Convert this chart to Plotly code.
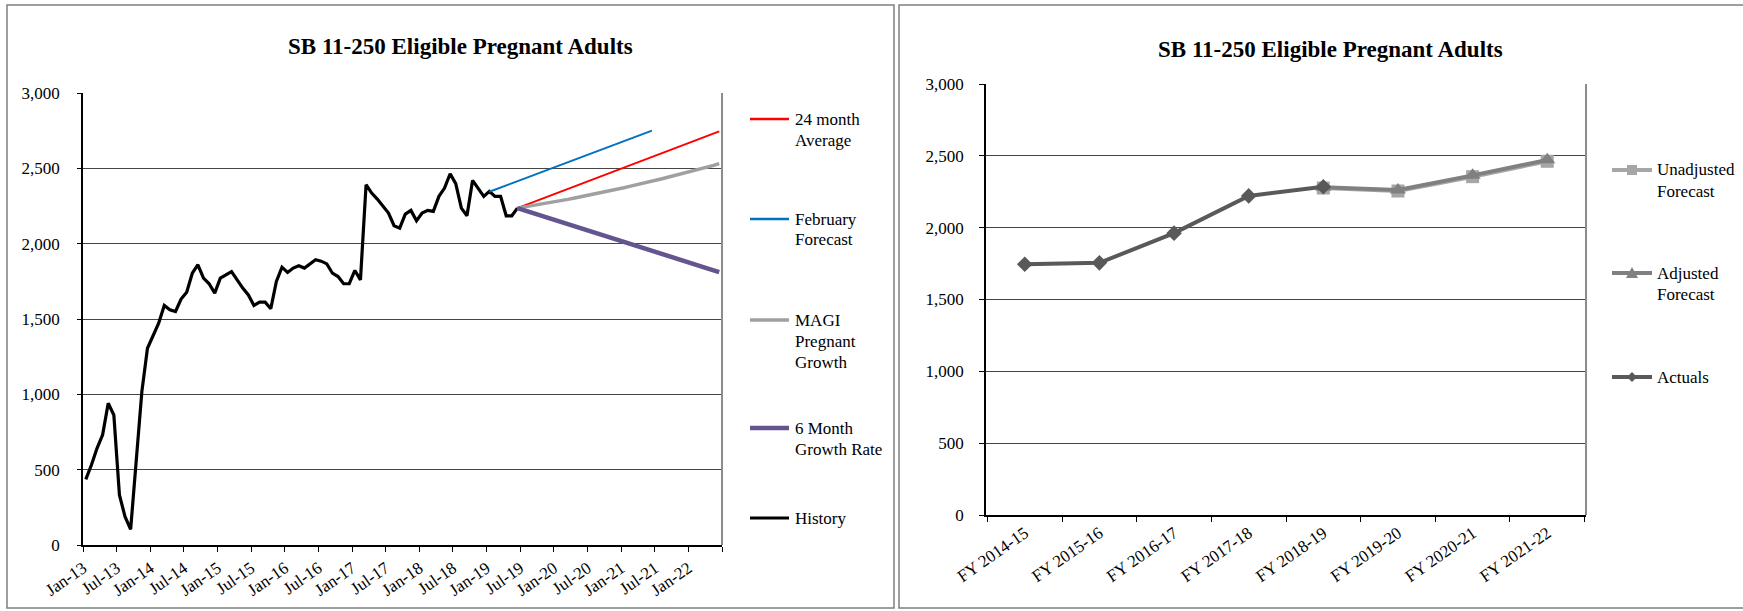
import pandas as pd
import plotly.graph_objects as go

W, H = 1743, 611
FONT = "Liberation Serif"
TITLE = "SB 11-250 Eligible Pregnant Adults"

# ---------------- monthly caseload (left panel) ----------------
months = list(pd.date_range("2013-01-01", periods=114, freq="MS").strftime("%b-%y"))

history_start = "Jan-13"
history = [
    436, 531, 642, 731, 941, 863, 332, 188, 104, 560,
    1018, 1306, 1395, 1472, 1590, 1561, 1550, 1632, 1678, 1804,
    1860, 1771, 1734, 1672, 1771, 1793, 1815, 1760, 1705, 1660,
    1590, 1612, 1612, 1568, 1749, 1844, 1809, 1838, 1853, 1838,
    1866, 1893, 1884, 1866, 1804, 1782, 1734, 1734, 1822, 1760,
    2391, 2336, 2296, 2247, 2203, 2119, 2103, 2196, 2221, 2152,
    2203, 2221, 2214, 2314, 2369, 2464, 2398, 2236, 2185, 2420,
    2369, 2314, 2347, 2314, 2314, 2185, 2185, 2236,
]

february_start = "Jan-19"
february_forecast = [
    2345, 2359, 2373, 2387, 2401, 2415, 2429, 2443, 2457, 2471,
    2485, 2499, 2513, 2527, 2541, 2555, 2568, 2582, 2596, 2610,
    2624, 2638, 2652, 2666, 2680, 2694, 2708, 2722, 2736, 2750,
]

projection_start = "Jun-19"
avg_24_month = [
    2236, 2250, 2264, 2278, 2293, 2307, 2321, 2335, 2349, 2363,
    2377, 2391, 2406, 2420, 2434, 2448, 2462, 2476, 2490, 2505,
    2519, 2533, 2547, 2561, 2575, 2589, 2603, 2618, 2632, 2646,
    2660, 2674, 2688, 2702, 2717, 2731, 2745,
]
magi_growth = [
    2236, 2242, 2248, 2254, 2261, 2267, 2274, 2281, 2288, 2294,
    2302, 2309, 2316, 2324, 2331, 2339, 2347, 2355, 2363, 2371,
    2380, 2388, 2397, 2406, 2414, 2424, 2433, 2442, 2451, 2461,
    2470, 2480, 2490, 2500, 2510, 2520, 2531,
]
six_month_growth = [
    2236, 2224, 2212, 2201, 2189, 2177, 2165, 2153, 2142, 2130,
    2118, 2106, 2094, 2083, 2071, 2059, 2047, 2035, 2024, 2012,
    2000, 1988, 1976, 1965, 1953, 1941, 1929, 1917, 1906, 1894,
    1882, 1870, 1858, 1847, 1835, 1823, 1811,
]

# ---------------- fiscal-year totals (right panel) ----------------
fiscal_years = ["FY 2014-15", "FY 2015-16", "FY 2016-17", "FY 2017-18",
                "FY 2018-19", "FY 2019-20", "FY 2020-21", "FY 2021-22"]
actuals = [1745, 1755, 1962, 2221, 2285, None, None, None]
unadjusted_forecast = [None, None, None, None, 2276, 2255, 2355, 2462]
adjusted_forecast = [None, None, None, None, 2282, 2262, 2364, 2472]


def month_pos(start, n):
    i0 = months.index(start)
    return list(range(i0, i0 + n))


def px(x):
    return x / W


def py(y):
    return 1 - y / H


fig = go.Figure()

# left panel series
left_series = [
    ("History", history_start, history, "#000000", 3.2),
    ("February Forecast", february_start, february_forecast, "#0070C0", 2),
    ("24 month Average", projection_start, avg_24_month, "#FF0000", 2),
    ("MAGI Pregnant Growth", projection_start, magi_growth, "#A0A0A0", 3.5),
    ("6 Month Growth Rate", projection_start, six_month_growth, "#65558F", 4.5),
]
for name, start, vals, color, width in left_series:
    fig.add_trace(go.Scatter(
        x=month_pos(start, len(vals)), y=vals, mode="lines", name=name,
        line=dict(color=color, width=width), xaxis="x", yaxis="y",
        showlegend=False,
    ))

# right panel series
fig.add_trace(go.Scatter(
    x=fiscal_years, y=unadjusted_forecast, mode="lines+markers",
    name="Unadjusted Forecast", line=dict(color="#A6A6A6", width=4),
    marker=dict(symbol="square", size=13, color="#A6A6A6"),
    xaxis="x2", yaxis="y2", showlegend=False,
))
fig.add_trace(go.Scatter(
    x=fiscal_years, y=adjusted_forecast, mode="lines+markers",
    name="Adjusted Forecast", line=dict(color="#808080", width=4),
    marker=dict(symbol="triangle-up", size=14, color="#808080"),
    xaxis="x2", yaxis="y2", showlegend=False,
))
fig.add_trace(go.Scatter(
    x=fiscal_years, y=actuals, mode="lines+markers",
    name="Actuals", line=dict(color="#595959", width=4),
    marker=dict(symbol="diamond", size=12, color="#595959"),
    xaxis="x2", yaxis="y2", showlegend=False,
))

tick_font = dict(family=FONT, size=17, color="#000000")
grid = "#454545"

left_tickvals = [i - 0.5 for i in range(0, len(months) + 1, 6)]
left_ticktext = months[::6][:len(left_tickvals) - 1] + [""]

fig.update_layout(
    width=W, height=H, autosize=False,
    margin=dict(l=0, r=0, t=0, b=0, pad=0, autoexpand=False),
    paper_bgcolor="white", plot_bgcolor="white",
    showlegend=False,
    font=dict(family=FONT, size=17, color="#000000"),
    xaxis=dict(
        domain=[px(83), px(722)], anchor="y", automargin=False,
        range=[-0.5, len(months) - 0.5],
        tickmode="array", tickvals=left_tickvals, ticktext=left_ticktext,
        tickangle=-35, ticks="outside", ticklen=5, tickcolor="#000000",
        showline=True, linecolor="#000000", linewidth=1.5,
        showgrid=False, zeroline=False, tickfont=tick_font,
    ),
    yaxis=dict(
        domain=[py(545), py(93)], anchor="x", automargin=False,
        range=[0, 3000], dtick=500, tickformat=",d",
        ticks="outside", ticklen=4, tickcolor="#000000",
        showline=True, linecolor="#000000", linewidth=1.5,
        showgrid=True, gridcolor=grid, gridwidth=1, zeroline=False,
        tickfont=tick_font, ticklabelstandoff=14,
    ),
    xaxis2=dict(
        domain=[px(986), px(1586)], anchor="y2", type="category", automargin=False,
        tickson="boundaries", tickangle=-35,
        ticks="outside", ticklen=5, tickcolor="#000000",
        showline=True, linecolor="#000000", linewidth=1.5,
        showgrid=False, zeroline=False, tickfont=tick_font,
    ),
    yaxis2=dict(
        domain=[py(515), py(84)], anchor="x2", automargin=False,
        range=[0, 3000], dtick=500, tickformat=",d",
        ticks="outside", ticklen=5, tickcolor="#000000",
        showline=True, linecolor="#000000", linewidth=1.5,
        showgrid=True, gridcolor=grid, gridwidth=1, zeroline=False,
        tickfont=tick_font, ticklabelstandoff=12,
    ),
)

shapes = []
annotations = []

# outer chart frames
shapes.append(dict(type="rect", xref="paper", yref="paper",
                   x0=px(7), x1=px(894), y0=py(608), y1=py(5),
                   line=dict(color="#7f7f7f", width=1.5), layer="below"))
shapes.append(dict(type="rect", xref="paper", yref="paper",
                   x0=px(899), x1=px(1750), y0=py(608), y1=py(5),
                   line=dict(color="#7f7f7f", width=1.5), layer="below"))

# plot-area borders (right edge)
for xa, ya in (("x", "y"), ("x2", "y2")):
    shapes.append(dict(type="line", xref=f"{xa} domain", yref=f"{ya} domain",
                       x0=1, x1=1, y0=0, y1=1,
                       line=dict(color="#8c8c8c", width=2)))

# titles
annotations.append(dict(text=f"<b>{TITLE}</b>", xref="paper", yref="paper",
                        x=px(461), y=py(47), xanchor="center", yanchor="middle",
                        showarrow=False, font=dict(family=FONT, size=23)))
annotations.append(dict(text=f"<b>{TITLE}</b>", xref="paper", yref="paper",
                        x=px(1330), y=py(49), xanchor="center", yanchor="middle",
                        showarrow=False, font=dict(family=FONT, size=23)))

# left legend
LINE_H = 21
left_legend = [
    (["24 month", "Average"], "#FF0000", 2.5, 119),
    (["February", "Forecast"], "#0070C0", 2.5, 219),
    (["MAGI", "Pregnant", "Growth"], "#A0A0A0", 3.5, 320),
    (["6 Month", "Growth Rate"], "#65558F", 4.5, 428),
    (["History"], "#000000", 3, 518),
]
for lines, color, width, y0 in left_legend:
    shapes.append(dict(type="line", xref="paper", yref="paper",
                       x0=px(750), x1=px(789), y0=py(y0), y1=py(y0),
                       line=dict(color=color, width=width)))
    for k, txt in enumerate(lines):
        annotations.append(dict(text=txt, xref="paper", yref="paper",
                                x=px(793), y=py(y0 + k * LINE_H),
                                xanchor="left", yanchor="middle", showarrow=False,
                                font=dict(family=FONT, size=17)))

# right legend
right_legend = [
    (["Unadjusted", "Forecast"], "#A6A6A6", "square", 170),
    (["Adjusted", "Forecast"], "#808080", "triangle", 273),
    (["Actuals"], "#595959", "diamond", 377),
]
cx = 1632
for lines, color, sym, y0 in right_legend:
    shapes.append(dict(type="line", xref="paper", yref="paper",
                       x0=px(1612), x1=px(1652), y0=py(y0), y1=py(y0),
                       line=dict(color=color, width=4)))
    if sym == "square":
        shapes.append(dict(type="rect", xref="paper", yref="paper",
                           x0=px(cx - 5), x1=px(cx + 5), y0=py(y0 + 5), y1=py(y0 - 5),
                           fillcolor=color, line=dict(width=0)))
    elif sym == "triangle":
        path = (f"M {px(cx - 6)},{py(y0 + 5)} L {px(cx + 6)},{py(y0 + 5)} "
                f"L {px(cx)},{py(y0 - 6)} Z")
        shapes.append(dict(type="path", xref="paper", yref="paper", path=path,
                           fillcolor=color, line=dict(width=0)))
    else:
        path = (f"M {px(cx)},{py(y0 - 5)} L {px(cx + 5)},{py(y0)} "
                f"L {px(cx)},{py(y0 + 5)} L {px(cx - 5)},{py(y0)} Z")
        shapes.append(dict(type="path", xref="paper", yref="paper", path=path,
                           fillcolor=color, line=dict(width=0)))
    for k, txt in enumerate(lines):
        annotations.append(dict(text=txt, xref="paper", yref="paper",
                                x=px(1655), y=py(y0 + k * LINE_H),
                                xanchor="left", yanchor="middle", showarrow=False,
                                font=dict(family=FONT, size=17)))

fig.update_layout(shapes=shapes, annotations=annotations)

fig.write_html("out.html")
